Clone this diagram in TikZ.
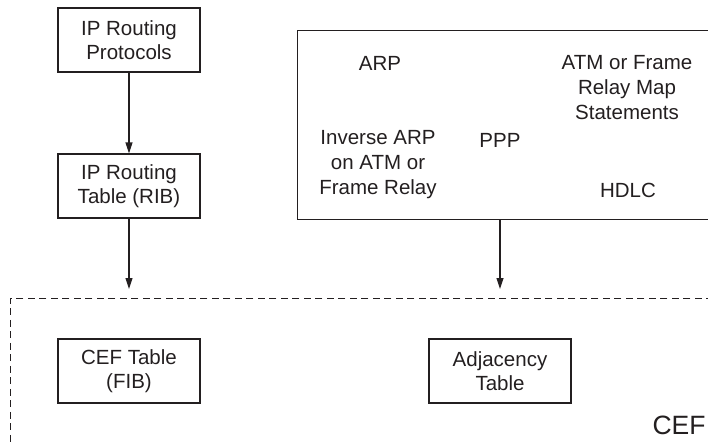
\documentclass[tikz,border=0pt]{standalone}
\usepackage{fontspec}
\setmainfont{Liberation Sans}
\usetikzlibrary{calc,arrows.meta}
\definecolor{cefink}{HTML}{231F20}

\begin{document}
\begin{tikzpicture}[x=1pt, y=-1pt,
    tablebox/.style={draw=cefink, line width=1.1pt, align=center, inner sep=0pt,
                     minimum width=142pt, minimum height=64pt, text=cefink,
                     font=\fontsize{20.5}{24}\selectfont},
    label/.style={align=center, inner sep=0pt, text=cefink, font=\fontsize{20.5}{25}\selectfont},
    arrow/.style={-{Triangle[length=11pt, width=7pt]}, draw=cefink, line width=1.1pt},
    cefregion/.style={draw=cefink, line width=0.9pt, dash pattern=on 7pt off 4.5pt}
  ]
    \useasboundingbox (0,0) rectangle (708,444);
    \clip (0,0) rectangle (708,444);

    % left column (centre x = 129)
    \node[tablebox] (proto) at (129,40)  {IP Routing\\Protocols};
    \node[tablebox] (rib)   at (129,186) {IP Routing\\Table (RIB)};

    % layer 2 resolution box, runs off the right edge
    \node[draw=cefink, line width=1.1pt, anchor=north west, inner sep=0pt,
          minimum width=430pt, minimum height=189pt] (encap) at (297,30) {};
    \node[label] (arp)   at (380,63)  {ARP};
    \node[label] (map)   at (627,88)  {ATM or Frame\\Relay Map\\Statements};
    \node[label] (inarp) at (378,165) {Inverse ARP\\on ATM or\\Frame Relay};
    \node[label] (ppp)   at (500,140) {PPP};
    \node[label] (hdlc)  at (628,190) {HDLC};

    % CEF region (dashed), runs off right and bottom edges
    \node[cefregion, anchor=north west, inner sep=0pt,
          minimum width=720pt, minimum height=160pt] (cefbox) at (10,298) {};
    \node[tablebox] (fib) at (129,371) {CEF Table\\(FIB)};
    \node[tablebox] (adj) at (500,371) {Adjacency\\Table};
    \node[label, font=\fontsize{26.5}{30}\selectfont] (ceflbl) at (679,425) {CEF};

    \draw[arrow] (proto) -- (rib);
    \draw[arrow, shorten >=9pt] (rib) -- (rib |- cefbox.north);
    \draw[arrow, shorten >=9pt] (adj |- encap.south) -- (adj |- cefbox.north);
  \end{tikzpicture}
\end{document}
